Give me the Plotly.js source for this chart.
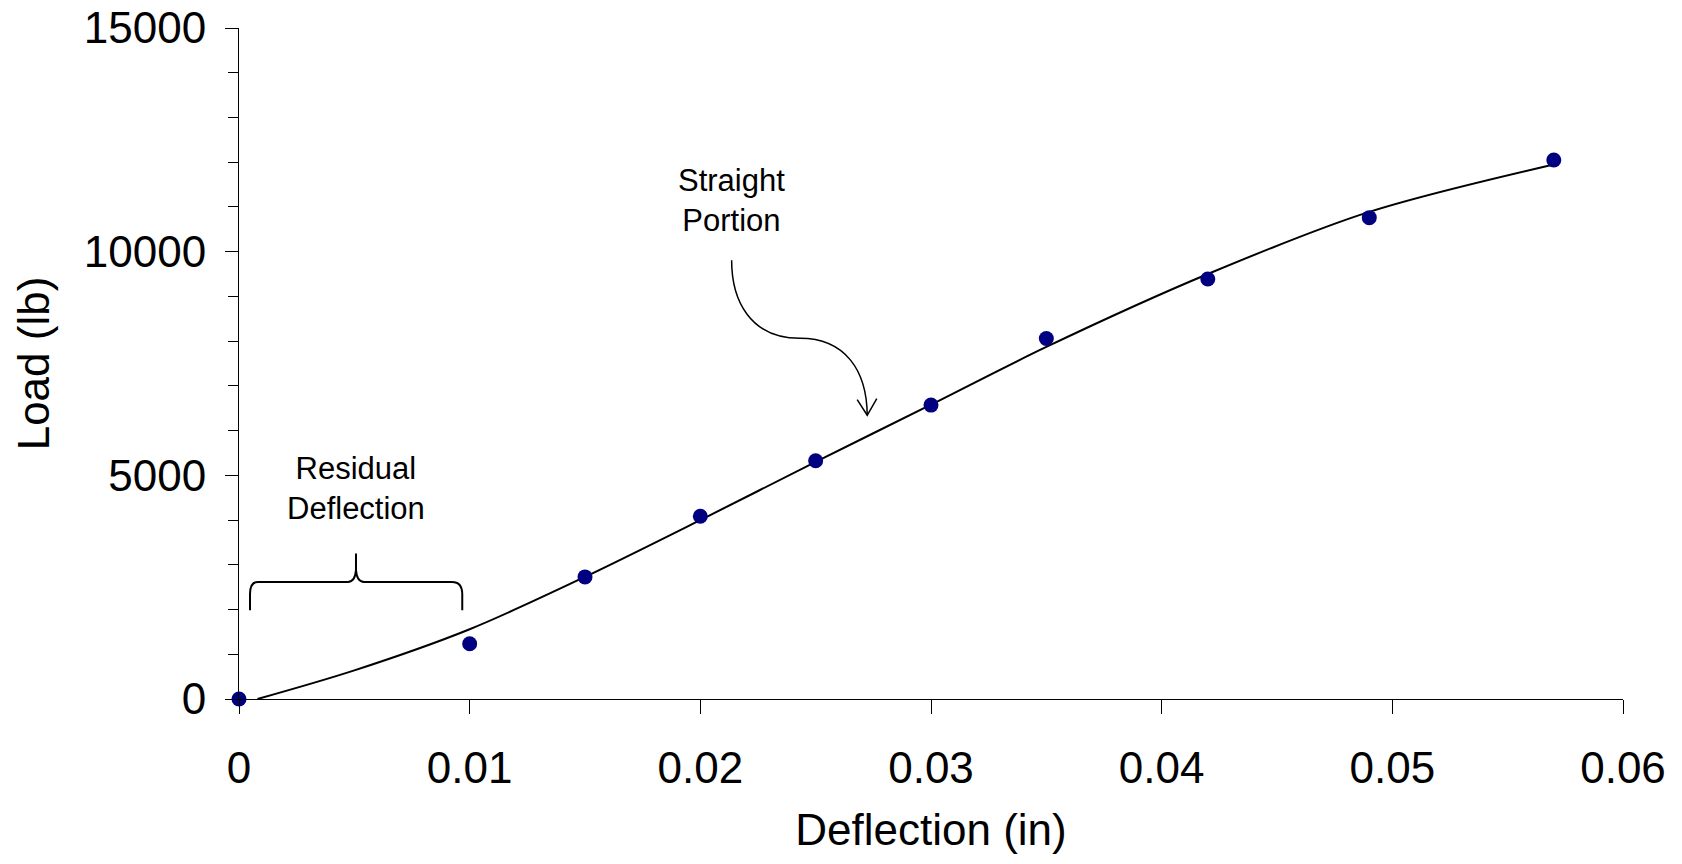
<!DOCTYPE html>
<html>
<head>
<meta charset="utf-8">
<script src="https://cdn.plot.ly/plotly-3.0.1.min.js"></script>
<style>html,body{margin:0;padding:0;background:#fff;}#chart{width:1682px;height:864px;}</style>
</head>
<body>
<div id="chart"></div>
<script>
// Measured data points
const deflection = [0, 0.010, 0.015, 0.020, 0.025, 0.030, 0.035, 0.042, 0.049, 0.057];
const load = [0, 1235, 2730, 4086, 5325, 6570, 8060, 9390, 10760, 12050];

// Trend curve
const curveX = [0.0008, 0.005, 0.010, 0.015, 0.020, 0.025, 0.030, 0.035, 0.042, 0.049, 0.057];
const curveY = [0, 640, 1560, 2730, 4000, 5300, 6580, 7870, 9500, 10890, 11950];

// Tick labels
const xTicks = [0, 0.01, 0.02, 0.03, 0.04, 0.05, 0.06];
const xTickText = ["0", "0.01", "0.02", "0.03", "0.04", "0.05", "0.06"];
const yTicks = [0, 5000, 10000, 15000];
const yTickText = ["0", "5000", "10000", "15000"];

// Annotation texts
const noteStraight = "Straight<br>Portion";
const noteResidual = "Residual<br>Deflection";

const FONT = "Liberation Sans, Arial, sans-serif";

const traces = [
  {
    x: curveX, y: curveY, type: "scatter", mode: "lines",
    line: {color: "#000000", width: 2, shape: "spline", smoothing: 0.9},
    hoverinfo: "skip", showlegend: false
  },
  {
    x: deflection, y: load, type: "scatter", mode: "markers",
    marker: {color: "#000080", size: 15},
    cliponaxis: false, showlegend: false
  }
];

const bracePath =
  "M 0.000477,1985 L 0.000477,2342 Q 0.000477,2617 0.000824,2617 " +
  "L 0.004725,2617 Q 0.005028,2617 0.005072,2879 L 0.005072,3252 " +
  "M 0.005072,3252 L 0.005072,2879 Q 0.005115,2617 0.005418,2617 " +
  "L 0.009233,2617 Q 0.009679,2617 0.009679,2342 L 0.009679,1985";

const arrowPath =
  "M 0.021357,9807 C 0.021357,8913 0.02215,8064 0.02432,8064 " +
  "C 0.02627,8064 0.02722,7349 0.027235,6343";
const arrowHead =
  "M 0.02680,6694 L 0.027235,6343 L 0.02765,6716";

const layout = {
  width: 1682, height: 864,
  paper_bgcolor: "#ffffff", plot_bgcolor: "#ffffff",
  margin: {l: 239, r: 59, t: 28, b: 165, pad: 0},
  font: {family: FONT, color: "#000000", size: 44},
  showlegend: false,
  xaxis: {
    range: [0, 0.06], tickvals: xTicks, ticktext: xTickText,
    showline: true, linecolor: "#000000", linewidth: 1,
    ticks: "outside", ticklen: 14, tickcolor: "#000000", tickwidth: 1,
    showgrid: false, zeroline: false,
    tickfont: {family: FONT, size: 44, color: "#000000"},
    ticklabelstandoff: 16,
    title: {text: "Deflection (in)", font: {family: FONT, size: 44, color: "#000000"}, standoff: 23}
  },
  yaxis: {
    range: [0, 15000], tickvals: yTicks, ticktext: yTickText,
    showline: true, linecolor: "#000000", linewidth: 1,
    ticks: "outside", ticklen: 13, tickcolor: "#000000", tickwidth: 1,
    minor: {dtick: 1000, ticks: "outside", ticklen: 10, tickcolor: "#000000", tickwidth: 1, showgrid: false},
    showgrid: false, zeroline: false,
    tickfont: {family: FONT, size: 44, color: "#000000"},
    ticklabelstandoff: 10,
    title: {text: "Load (lb)", font: {family: FONT, size: 44, color: "#000000"}, standoff: 20}
  },
  annotations: [
    {x: 0.021357, y: 11149, xref: "x", yref: "y", text: noteStraight, showarrow: false,
     font: {family: FONT, size: 31, color: "#000000"}, xanchor: "center", yanchor: "middle"},
    {x: 0.005063, y: 4712, xref: "x", yref: "y", text: noteResidual, showarrow: false,
     font: {family: FONT, size: 31, color: "#000000"}, xanchor: "center", yanchor: "middle"}
  ],
  shapes: [
    {type: "path", xref: "x", yref: "y", path: bracePath, line: {color: "#000000", width: 2}},
    {type: "path", xref: "x", yref: "y", path: arrowPath, line: {color: "#000000", width: 1.5}},
    {type: "path", xref: "x", yref: "y", path: arrowHead, line: {color: "#000000", width: 1.5}}
  ]
};

Plotly.newPlot("chart", traces, layout, {displayModeBar: false, staticPlot: true});
</script>
</body>
</html>
